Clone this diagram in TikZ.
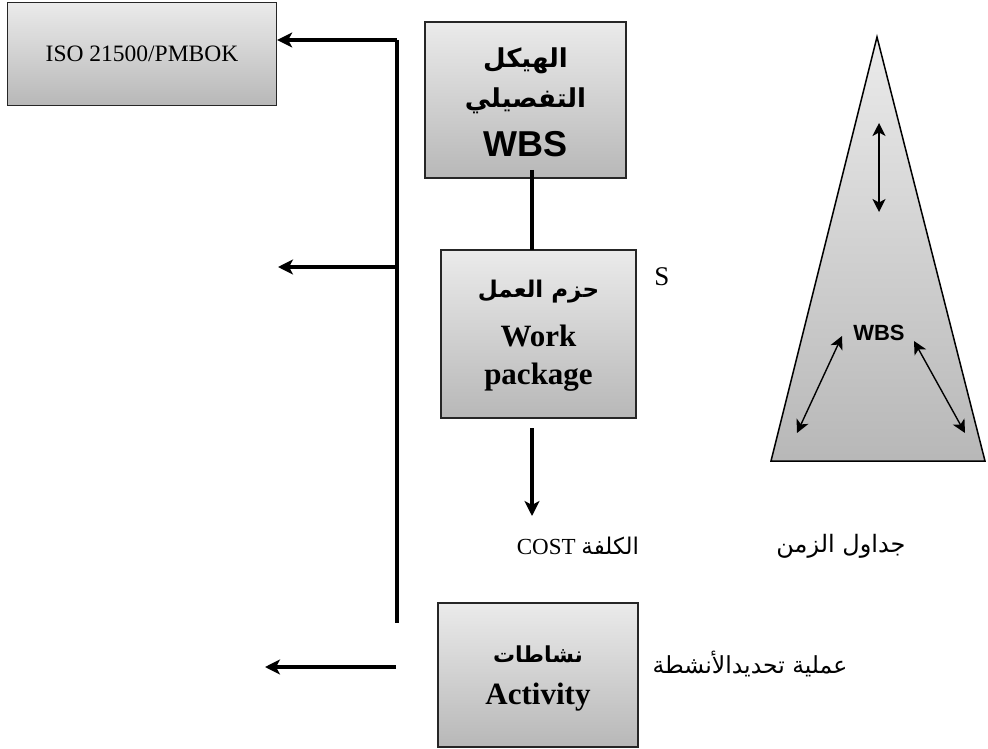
\documentclass[tikz,border=0pt]{standalone}
\usepackage{fontspec}
\setmainfont{Liberation Serif}
\setsansfont{Liberation Sans}
\newfontfamily\arabicfont[Script=Arabic]{DejaVu Sans}
\TeXXeTstate=1
\usetikzlibrary{arrows.meta}
\begin{document}
\begin{tikzpicture}[x=1pt,y=-1pt,
  gbox/.style={draw=black!85, line width=1.4pt, top color=black!8, bottom color=black!28, inner sep=0pt, align=center},
  bus/.style={line width=4.5pt},
  busarrow/.style={line width=4.5pt, -{Stealth[length=15pt,width=15pt,inset=4pt]}},
  thinarrow/.style={line width=1.4pt, {Stealth[length=13pt,width=13pt,inset=3.5pt]}-{Stealth[length=13pt,width=13pt,inset=3.5pt]}},
  ptext/.style={inner sep=0pt, align=center}
]
\useasboundingbox (0,0) rectangle (988,749);

% boxes
\node[gbox, minimum width=269pt, minimum height=103pt] (iso) at (142,54)
  {\fontsize{23.5}{28}\selectfont ISO 21500/PMBOK};
\node[gbox, minimum width=201pt, minimum height=156pt] (wbs) at (525.5,100) {};
\node[ptext] (wbs1) at (525.5,61) {\fontsize{26}{30}\selectfont\arabicfont\bfseries\beginR الهيكل\endR};
\node[ptext] (wbs2) at (525.5,101) {\fontsize{26}{30}\selectfont\arabicfont\bfseries\beginR التفصيلي\endR};
\node[ptext] (wbs3) at (525.5,144) {\fontsize{36}{40}\selectfont\sffamily\bfseries WBS};

\node[gbox, minimum width=195pt, minimum height=168pt] (wp) at (538.5,334) {};
\node[ptext] (wp1) at (538.5,292) {\fontsize{23}{26}\selectfont\arabicfont\bfseries\beginR حزم العمل\endR};
\node[ptext] (wp2) at (538.5,336) {\fontsize{31}{34}\selectfont\bfseries Work};
\node[ptext] (wp3) at (538.5,377) {\fontsize{31}{34}\selectfont\bfseries package};

\node[gbox, minimum width=200pt, minimum height=144pt] (act) at (538,675) {};
\node[ptext] (act1) at (538,654) {\fontsize{22}{26}\selectfont\arabicfont\bfseries\beginR نشاطات\endR};
\node[ptext] (act2) at (538,697) {\fontsize{31}{34}\selectfont\bfseries Activity};

% bus and arrows
\coordinate (bustop) at (397,40);
\coordinate (busbot) at (397,623);
\coordinate (busmid) at (397,267);
\coordinate (midend) at (278,267);
\coordinate (lowstart) at (396,667);
\coordinate (lowend) at (265,667);
\draw[bus] (bustop) -- (busbot);
\draw[busarrow] (bustop) -- (bustop -| iso.east);
\draw[busarrow] (busmid) -- (midend);
\draw[busarrow] (lowstart) -- (lowend);

\coordinate (wbsdown) at (532,170);
\coordinate (wptop) at (532,250);
\coordinate (wpdown) at (532,428);
\coordinate (costtip) at (532,516);
\draw[bus] (wbsdown) -- (wptop);
\draw[busarrow] (wpdown) -- (costtip);

% texts
\node[ptext] (s) at (662,277) {\fontsize{27}{30}\selectfont S};
\node[ptext] (cost) at (578,546) {\fontsize{23}{26}\selectfont\beginR{\arabicfont الكلفة} \beginL COST\endL\endR};
\node[ptext] (time) at (841,546) {\fontsize{24}{28}\selectfont\arabicfont\beginR جداول الزمن\endR};
\node[ptext] (proc) at (750,664) {\fontsize{23.5}{28}\selectfont\arabicfont\beginR عملية تحديدالأنشطة\endR};

% triangle
\coordinate (apex) at (877,37);
\coordinate (bl) at (771,461);
\coordinate (br) at (985,461);
\draw[line width=1.5pt, top color=black!8, bottom color=black!28] (apex) -- (br) -- (bl) -- cycle;
\node[ptext] (twbs) at (879,333) {\fontsize{22}{26}\selectfont\sffamily\bfseries WBS};
\coordinate (v1) at (879,123);
\coordinate (v2) at (879,212);
\coordinate (l1) at (842,336);
\coordinate (l2) at (797,433);
\coordinate (r1) at (914,341);
\coordinate (r2) at (965,433);
\draw[thinarrow] (v1) -- (v2);
\draw[thinarrow] (l1) -- (l2);
\draw[thinarrow] (r1) -- (r2);
\end{tikzpicture}
\end{document}
